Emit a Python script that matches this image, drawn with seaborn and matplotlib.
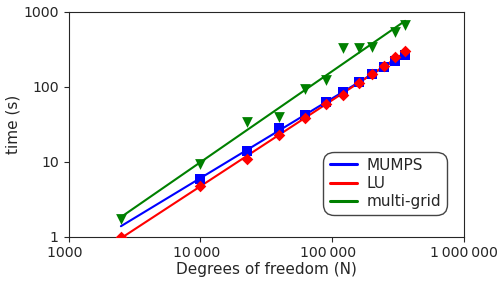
import numpy as np
import pandas as pd
import matplotlib
matplotlib.use("Agg")
import matplotlib.pyplot as plt
import seaborn as sns
from matplotlib.ticker import FuncFormatter, FixedLocator, NullLocator
from matplotlib.lines import Line2D

# degrees of freedom, N = n^2
dof = [2500, 10000, 22500, 40000, 62500, 90000, 122500, 160000, 202500, 250000, 302500, 360000]
mumps = [np.nan, 5.8, 14, 28, 42, 63, 86, 117, 148, 185, 220, 264]
lu = [1.0, 4.75, 11, 22.7, 38, 59, 77, 111, 148, 189, 246, 302]
mgrid = [1.72, 9.2, 34, 40, 92, 123, 325, 325, 341, np.nan, 541, 665]

series = ["MUMPS", "LU", "multi-grid"]
colors = {"MUMPS": "blue", "LU": "red", "multi-grid": "green"}
markers = {"MUMPS": "s", "LU": "D", "multi-grid": "v"}
sizes = {"MUMPS": 55, "LU": 35, "multi-grid": 60}

df = pd.DataFrame({"N": dof, "MUMPS": mumps, "LU": lu, "multi-grid": mgrid})
long = df.melt(id_vars="N", var_name="solver", value_name="time").dropna()

sns.set_style("ticks")
plt.rcParams["font.family"] = ["DejaVu Sans"]

fig = plt.figure(figsize=(5, 2.81), dpi=100)
ax = fig.add_axes([0.137, 0.158, 0.79, 0.8])

# power-law fits over the full range of N
xfit = np.array([dof[0], dof[-1]], dtype=float)
fits = []
for s in series:
    d = long[long.solver == s]
    k, b = np.polyfit(np.log10(d.N), np.log10(d.time), 1)
    fits.append(pd.DataFrame({"N": xfit, "time": 10 ** (k * np.log10(xfit) + b), "solver": s}))
fits = pd.concat(fits)

sns.lineplot(data=fits, x="N", y="time", hue="solver", palette=colors, lw=1.5,
             legend=False, ax=ax)
for s in series:
    d = long[long.solver == s]
    sns.scatterplot(data=d, x="N", y="time", color=colors[s], marker=markers[s],
                    s=sizes[s], edgecolor=colors[s], linewidth=0, legend=False, ax=ax, zorder=3)

ax.set_xscale("log")
ax.set_yscale("log")
ax.set_xlim(1000, 1e6)
ax.set_ylim(1, 1000)
ax.xaxis.set_major_locator(FixedLocator([1e3, 1e4, 1e5, 1e6]))
ax.yaxis.set_major_locator(FixedLocator([1, 10, 100, 1000]))
ax.xaxis.set_minor_locator(NullLocator())
ax.yaxis.set_minor_locator(NullLocator())


def thousands(v):
    return f"{int(round(v)):,}".replace(",", "\u2009") if v >= 10000 else f"{int(round(v))}"


ax.xaxis.set_major_formatter(FuncFormatter(lambda v, p: thousands(v) + (" \u2009" if v < 1e6 else "")))
ax.yaxis.set_major_formatter(FuncFormatter(lambda v, p: thousands(v)))
ax.tick_params(labelsize=10.2, length=3.5)
ax.set_xlabel("Degrees of freedom (N)", fontsize=11, labelpad=1)
ax.set_ylabel("time (s)", fontsize=11, labelpad=2)

handles = [Line2D([0], [0], color=colors[s], lw=2.2) for s in series]
leg = ax.legend(handles, series, loc="lower right", bbox_to_anchor=(0.958, 0.096),
                borderaxespad=0, fontsize=11, fancybox=True, framealpha=1,
                edgecolor="#444444", handlelength=1.8, handletextpad=0.6,
                labelspacing=0.2, borderpad=0.4)
leg.get_frame().set_boxstyle("round", pad=0, rounding_size=0.7)

fig.savefig("out.png", dpi=100)
